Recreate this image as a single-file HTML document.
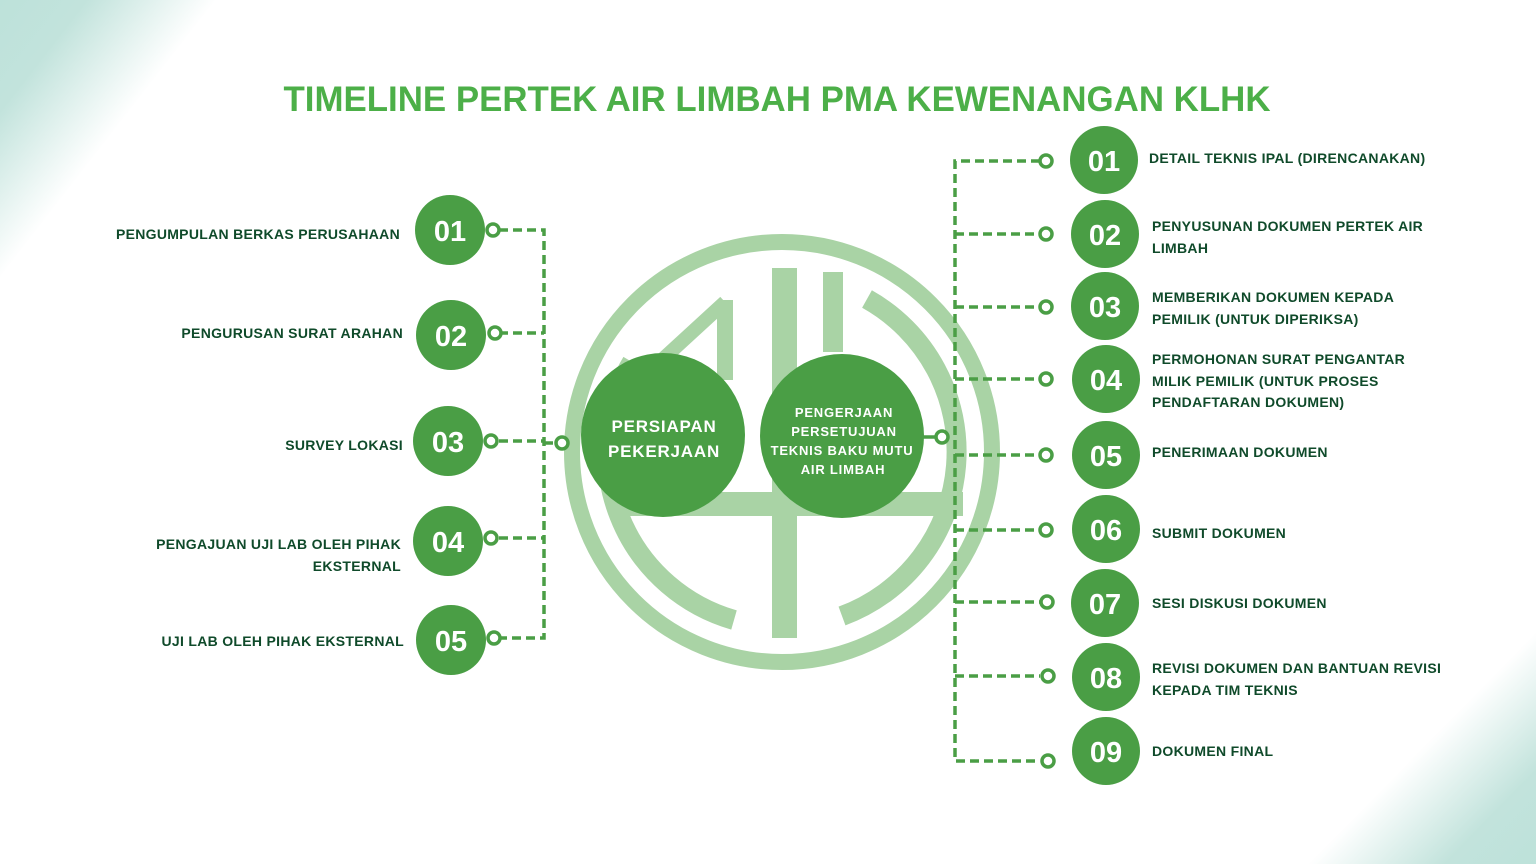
<!DOCTYPE html>
<html><head><meta charset="utf-8"><style>
html,body{margin:0;padding:0;background:#fff;}
svg{display:block;}
text{font-family:"Liberation Sans",sans-serif;font-weight:bold;}
.l{fill:#0f4a2a;font-size:14px;letter-spacing:0.3px;}
.n{fill:#fff;font-size:29px;text-anchor:middle;}
.c{fill:#fff;text-anchor:middle;letter-spacing:0.8px;}
.d{stroke:#4a9e45;stroke-width:3.5;fill:none;stroke-dasharray:9 5;}
.r{stroke:#4a9e45;stroke-width:3.5;fill:#fff;}
</style></head><body>
<svg width="1536" height="864" viewBox="0 0 1536 864" xmlns="http://www.w3.org/2000/svg">
<defs>
<linearGradient id="g1" gradientUnits="userSpaceOnUse" x1="0" y1="0" x2="135" y2="105">
<stop offset="0" stop-color="#bde2da"/><stop offset="0.4" stop-color="#c2e3dc"/><stop offset="1" stop-color="#c2e3dc" stop-opacity="0"/></linearGradient>
<linearGradient id="g2" gradientUnits="userSpaceOnUse" x1="1536" y1="864" x2="1420" y2="750">
<stop offset="0" stop-color="#bde2da"/><stop offset="0.4" stop-color="#c2e3dc"/><stop offset="1" stop-color="#c2e3dc" stop-opacity="0"/></linearGradient>
</defs>
<rect width="1536" height="864" fill="#fff"/>
<rect x="0" y="0" width="1536" height="864" fill="url(#g1)"/>
<rect x="0" y="0" width="1536" height="864" fill="url(#g2)"/>

<!-- background logo -->
<g fill="none" stroke="#a9d3a5">
<circle cx="782" cy="452" r="210" stroke-width="16"/>
<path d="M734 620 A175 175 0 0 1 632 362" stroke-width="20"/>
<path d="M867 299 A175 175 0 0 1 842 616" stroke-width="20"/>
<path d="M725 300 L725 380" stroke-width="16"/>
<path d="M725 302 L640 380" stroke-width="14"/>
</g>
<g fill="#a9d3a5">
<rect x="772" y="268" width="25" height="370"/>
<rect x="823" y="272" width="20" height="80"/>
<rect x="620" y="492" width="343" height="24"/>
</g>

<text x="777" y="111" text-anchor="middle" textLength="987" lengthAdjust="spacingAndGlyphs" style="font-size:35px;fill:#4caf48;">TIMELINE PERTEK AIR LIMBAH PMA KEWENANGAN KLHK</text>

<!-- left connectors -->
<path class="d" d="M499 230 H544 V638 H499 M499 333 H544 M499 441 H544 M499 538 H544 M544 443 H556"/>
<g>
<circle cx="450" cy="230" r="35" fill="#4a9e45"/><text class="n" x="450" y="241">01</text>
<circle cx="451" cy="335" r="35" fill="#4a9e45"/><text class="n" x="451" y="346">02</text>
<circle cx="448" cy="441" r="35" fill="#4a9e45"/><text class="n" x="448" y="452">03</text>
<circle cx="448" cy="541" r="35" fill="#4a9e45"/><text class="n" x="448" y="552">04</text>
<circle cx="451" cy="640" r="35" fill="#4a9e45"/><text class="n" x="451" y="651">05</text>
</g>
<g>
<circle class="r" cx="493" cy="230" r="6"/><circle class="r" cx="495" cy="333" r="6"/><circle class="r" cx="491" cy="441" r="6"/><circle class="r" cx="491" cy="538" r="6"/><circle class="r" cx="494" cy="638" r="6"/><circle class="r" cx="562" cy="443" r="6"/>
</g>
<g>
<text class="l" x="400" y="239" text-anchor="end">PENGUMPULAN BERKAS PERUSAHAAN</text>
<text class="l" x="403" y="338" text-anchor="end">PENGURUSAN SURAT ARAHAN</text>
<text class="l" x="403" y="450" text-anchor="end">SURVEY LOKASI</text>
<text class="l" x="401" y="549" text-anchor="end">PENGAJUAN UJI LAB OLEH PIHAK</text>
<text class="l" x="401" y="571" text-anchor="end">EKSTERNAL</text>
<text class="l" x="404" y="646" text-anchor="end">UJI LAB OLEH PIHAK EKSTERNAL</text>
</g>

<!-- center circles -->
<circle cx="663" cy="435" r="82" fill="#4a9e45"/>
<text class="c" x="664" y="432" style="font-size:17px">PERSIAPAN</text>
<text class="c" x="664" y="457" style="font-size:17px">PEKERJAAN</text>
<path d="M920 437 H936" stroke="#4a9e45" stroke-width="3.5"/>
<circle cx="842" cy="436" r="82" fill="#4a9e45"/>
<text class="c" x="844" y="417" style="font-size:13px">PENGERJAAN</text>
<text class="c" x="844" y="436" style="font-size:13px">PERSETUJUAN</text>
<text class="c" x="842" y="455" style="font-size:13px">TEKNIS BAKU MUTU</text>
<text class="c" x="843" y="474" style="font-size:13px">AIR LIMBAH</text>
<circle class="r" cx="942" cy="437" r="6"/>

<!-- right connectors -->
<path class="d" d="M1040 161 H955 V761 H1040 M955 234 H1040 M955 307 H1040 M955 379 H1040 M955 455 H1040 M955 530 H1040 M955 602 H1040 M955 676 H1040"/>
<g>
<circle class="r" cx="1046" cy="161" r="6"/><circle class="r" cx="1046" cy="234" r="6"/><circle class="r" cx="1046" cy="307" r="6"/><circle class="r" cx="1046" cy="379" r="6"/><circle class="r" cx="1046" cy="455" r="6"/><circle class="r" cx="1046" cy="530" r="6"/><circle class="r" cx="1047" cy="602" r="6"/><circle class="r" cx="1048" cy="676" r="6"/><circle class="r" cx="1048" cy="761" r="6"/>
</g>
<g>
<circle cx="1104" cy="160" r="34" fill="#4a9e45"/><text class="n" x="1104" y="171">01</text>
<circle cx="1105" cy="234" r="34" fill="#4a9e45"/><text class="n" x="1105" y="245">02</text>
<circle cx="1105" cy="306" r="34" fill="#4a9e45"/><text class="n" x="1105" y="317">03</text>
<circle cx="1106" cy="379" r="34" fill="#4a9e45"/><text class="n" x="1106" y="390">04</text>
<circle cx="1106" cy="455" r="34" fill="#4a9e45"/><text class="n" x="1106" y="466">05</text>
<circle cx="1106" cy="529" r="34" fill="#4a9e45"/><text class="n" x="1106" y="540">06</text>
<circle cx="1105" cy="603" r="34" fill="#4a9e45"/><text class="n" x="1105" y="614">07</text>
<circle cx="1106" cy="677" r="34" fill="#4a9e45"/><text class="n" x="1106" y="688">08</text>
<circle cx="1106" cy="751" r="34" fill="#4a9e45"/><text class="n" x="1106" y="762">09</text>
</g>
<g>
<text class="l" x="1149" y="163">DETAIL TEKNIS IPAL (DIRENCANAKAN)</text>
<text class="l" x="1152" y="231">PENYUSUNAN DOKUMEN PERTEK AIR</text>
<text class="l" x="1152" y="253">LIMBAH</text>
<text class="l" x="1152" y="302">MEMBERIKAN DOKUMEN KEPADA</text>
<text class="l" x="1152" y="324">PEMILIK (UNTUK DIPERIKSA)</text>
<text class="l" x="1152" y="364">PERMOHONAN SURAT PENGANTAR</text>
<text class="l" x="1152" y="386">MILIK PEMILIK (UNTUK PROSES</text>
<text class="l" x="1152" y="407">PENDAFTARAN DOKUMEN)</text>
<text class="l" x="1152" y="457">PENERIMAAN DOKUMEN</text>
<text class="l" x="1152" y="538">SUBMIT DOKUMEN</text>
<text class="l" x="1152" y="608">SESI DISKUSI DOKUMEN</text>
<text class="l" x="1152" y="673">REVISI DOKUMEN DAN BANTUAN REVISI</text>
<text class="l" x="1152" y="695">KEPADA TIM TEKNIS</text>
<text class="l" x="1152" y="756">DOKUMEN FINAL</text>
</g>
</svg>
</body></html>
